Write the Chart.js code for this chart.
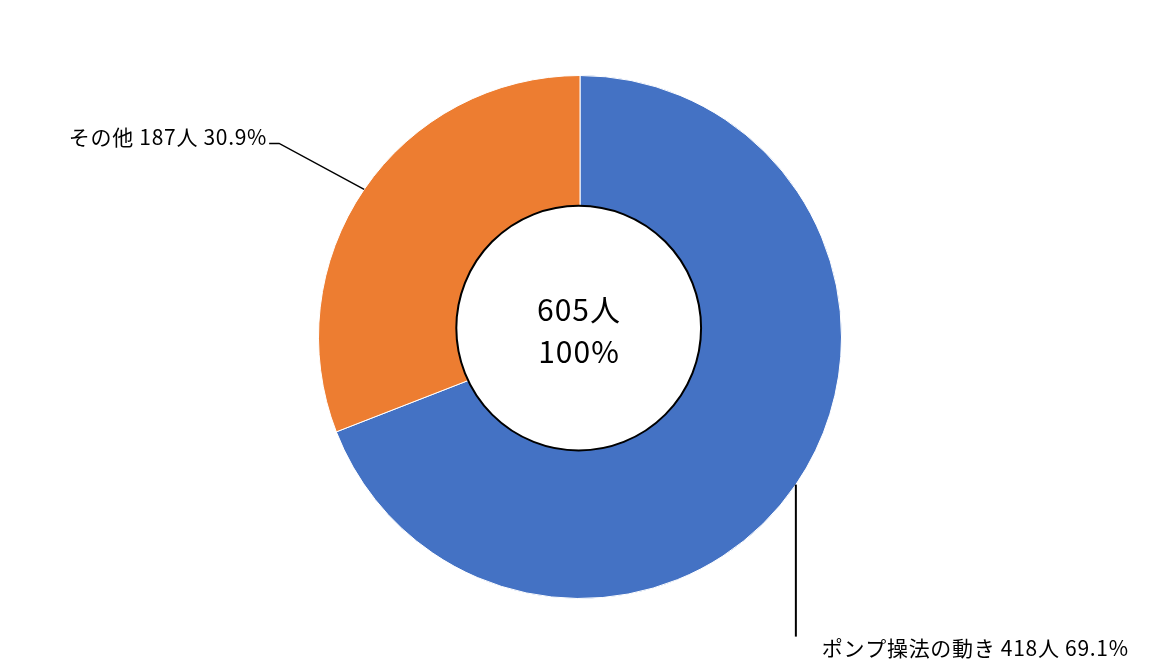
<!DOCTYPE html>
<html><head><meta charset="utf-8">
<script src="https://cdn.jsdelivr.net/npm/chart.js@4.4.0/dist/chart.umd.min.js"></script>
<style>html,body{margin:0;padding:0;background:#fff;}#wrap{width:1172px;height:670px;position:relative;}</style>
</head><body><div id="wrap"><canvas id="c"></canvas></div>
<script>
const categories = ['ポンプ操法の動き', 'その他'];
const counts = [418, 187];
const percents = ['69.1%', '30.9%'];
const centerLines = ['605人', '100%'];
const colors = ['#4472C4', '#ED7D31'];

const FONT = '"Noto Sans CJK JP", "Noto Sans", sans-serif';

const overlay = {
  id: 'overlay',
  afterDatasetsDraw(chart) {
    const ctx = chart.ctx;
    const meta = chart.getDatasetMeta(0);
    const a0 = meta.data[0];
    const cx = a0.x, cy = a0.y, R = a0.outerRadius;
    ctx.save();
    // inner white circle
    ctx.beginPath();
    ctx.arc(cx - 0.005 * R, cy - 0.034 * R, 0.468 * R, 0, Math.PI * 2);
    ctx.fillStyle = '#fff';
    ctx.fill();
    ctx.lineWidth = 2;
    ctx.strokeStyle = '#000';
    ctx.stroke();
    // center text
    ctx.fillStyle = '#000';
    ctx.font = '30px ' + FONT;
    ctx.letterSpacing = '1px';
    ctx.textAlign = 'center';
    ctx.textBaseline = 'middle';
    ctx.fillText(centerLines[0], cx - 1, cy - 27);
    ctx.fillText(centerLines[1], cx - 1, cy + 15);
    // labels with leader lines
    ctx.font = '21px ' + FONT;
    ctx.letterSpacing = '0.7px';
    ctx.strokeStyle = '#000';
    meta.data.forEach((arc, i) => {
      const mid = (arc.startAngle + arc.endAngle) / 2;
      const px = cx + Math.cos(mid) * R, py = cy + Math.sin(mid) * R;
      const text = categories[i] + ' ' + counts[i] + '人 ' + percents[i];
      ctx.beginPath();
      if (px < cx) {
        ctx.lineWidth = 1.5;
        ctx.moveTo(px, py);
        ctx.lineTo(px - 85, py - 46);
        ctx.lineTo(px - 95, py - 46);
        ctx.stroke();
        ctx.textAlign = 'right';
        ctx.fillText(text, px - 97, py - 52);
      } else {
        ctx.lineWidth = 2;
        ctx.moveTo(px, py);
        ctx.lineTo(px, py + 152);
        ctx.stroke();
        ctx.textAlign = 'left';
        ctx.fillText(text, px + 26, py + 163);
      }
    });
    ctx.restore();
  }
};

new Chart(document.getElementById('c'), {
  type: 'doughnut',
  data: {
    labels: categories,
    datasets: [{
      data: counts,
      backgroundColor: colors,
      borderColor: '#ffffff',
      borderWidth: 1
    }]
  },
  options: {
    responsive: true,
    maintainAspectRatio: false,
    animation: false,
    cutout: '40%',
    layout: { padding: { top: 75, bottom: 71, left: 0, right: 12 } },
    plugins: { legend: { display: false }, tooltip: { enabled: false } }
  },
  plugins: [overlay]
});
</script>
</body></html>
